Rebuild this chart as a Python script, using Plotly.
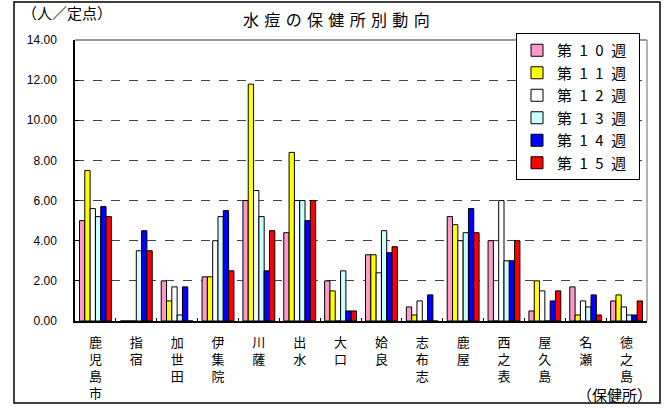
import plotly.graph_objects as go

categories = ["鹿児島市", "指宿", "加世田", "伊集院", "川薩", "出水", "大口",
              "姶良", "志布志", "鹿屋", "西之表", "屋久島", "名瀬", "徳之島"]
series_names = ["第10週", "第11週", "第12週", "第13週", "第14週", "第15週"]
week10 = [5.0, 0.0, 2.0, 2.2, 6.0, 4.4, 2.0, 3.3, 0.7, 5.2, 4.0, 0.5, 1.7, 1.0]
week11 = [7.5, 0.0, 1.0, 2.2, 11.8, 8.4, 1.5, 3.3, 0.3, 4.8, 0.0, 2.0, 0.3, 1.3]
week12 = [5.6, 0.0, 1.7, 4.0, 6.5, 6.0, 0.0, 2.4, 1.0, 4.0, 6.0, 1.5, 1.0, 0.7]
week13 = [5.2, 3.5, 0.3, 5.2, 5.2, 6.0, 2.5, 4.5, 0.0, 4.4, 3.0, 0.0, 0.7, 0.3]
week14 = [5.7, 4.5, 1.7, 5.5, 2.5, 5.0, 0.5, 3.4, 1.3, 5.6, 3.0, 1.0, 1.3, 0.3]
week15 = [5.2, 3.5, 0.0, 2.5, 4.5, 6.0, 0.5, 3.7, 0.0, 4.4, 4.0, 1.5, 0.3, 1.0]
colors = ["#FF99CC", "#FFFF00", "#FFFFFF", "#CCFFFF", "#0000FF", "#FF0000"]
y_ticks = [0, 2, 4, 6, 8, 10, 12, 14]

all_series = [week10, week11, week12, week13, week14, week15]

SP = "\u2004"
LSP = "\u2002"

fig = go.Figure()
for name, vals, col in zip(series_names, all_series, colors):
    fig.add_trace(go.Bar(x=categories, y=vals, name=LSP.join(list(name)) + LSP,
                         marker=dict(color=col, line=dict(color="black", width=1))))

ticktext = ["<br>".join(list(c)) for c in categories]

L, R, T, B = 75, 25, 40, 88
W, H = 672, 409
pw, ph = W - L - R, H - T - B

def px(x):
    return (x - L) / pw

def py(y):
    return (H - B - y) / ph

fig.update_layout(
    width=W, height=H,
    margin=dict(l=L, r=R, t=T, b=B, autoexpand=False),
    paper_bgcolor="white", plot_bgcolor="white",
    barmode="group", bargap=0.22, bargroupgap=0,
    font=dict(family="Noto Sans CJK JP, Arial", color="black"),
    showlegend=True,
    legend=dict(x=px(516), y=py(33), xanchor="left", yanchor="top",
                bgcolor="white", bordercolor="black", borderwidth=1,
                font=dict(size=15, family="Noto Sans CJK JP"),
                tracegroupgap=0),
    xaxis=dict(tickmode="array", tickvals=categories, ticktext=ticktext,
               tickangle=0, ticks="inside", ticklen=3, tickson="boundaries",
               ticklabelstandoff=9,
               tickcolor="black", showline=True, linecolor="black", linewidth=1.5,
               tickfont=dict(size=13, family="Noto Sans CJK JP", color="black"),
               showgrid=False),
    yaxis=dict(range=[0, 14], tickvals=y_ticks, tickformat=".2f",
               ticks="inside", ticklen=4, tickcolor="black",
               ticklabelstandoff=14,
               showline=True, linecolor="black", linewidth=1.5,
               tickfont=dict(size=12, family="Arial", color="black"),
               showgrid=True, gridcolor="#444444", griddash="dash", gridwidth=1,
               zeroline=False),
    shapes=[
        dict(type="line", xref="paper", yref="paper", x0=0, x1=1, y0=1, y1=1,
             line=dict(color="#999999", width=2)),
        dict(type="line", xref="paper", yref="paper", x0=1, x1=1, y0=0, y1=1,
             line=dict(color="#999999", width=1.5)),
        dict(type="rect", xref="paper", yref="paper",
             x0=px(14), x1=px(660), y0=py(403), y1=py(2),
             line=dict(color="black", width=1.5), layer="above"),
    ],
    annotations=[
        dict(text=SP.join(list("水痘の保健所別動向")), xref="paper", yref="paper",
             x=px(336), y=py(19), xanchor="center", yanchor="middle",
             showarrow=False, font=dict(size=16, family="Noto Sans CJK JP")),
        dict(text="（人／定点）", xref="paper", yref="paper",
             x=px(20), y=py(12), xanchor="left", yanchor="middle",
             showarrow=False, font=dict(size=15, family="Noto Sans CJK JP")),
        dict(text="（保健所）", xref="paper", yref="paper",
             x=px(654), y=py(394), xanchor="right", yanchor="middle",
             showarrow=False, font=dict(size=15, family="Noto Sans CJK JP")),
    ],
)

fig.write_html("out.html", config={"displayModeBar": False},
               post_script="document.body.style.margin='0';document.body.style.padding='0';")
